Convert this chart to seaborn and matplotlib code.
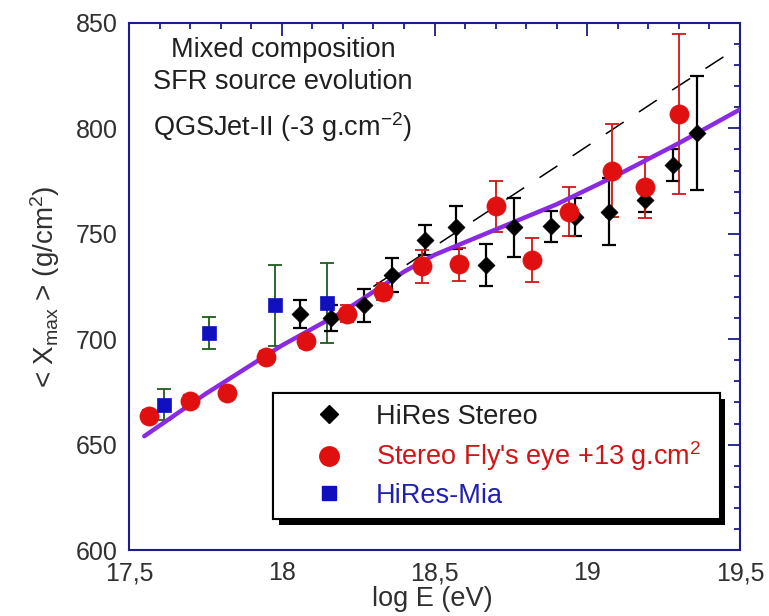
import matplotlib
matplotlib.use("Agg")
import matplotlib.pyplot as plt
import matplotlib.patheffects as pe
from matplotlib.lines import Line2D
from matplotlib.ticker import MultipleLocator, FixedLocator, FixedFormatter
import seaborn as sns
import pandas as pd

# ---------------- data ----------------
stereo_x = [18.06, 18.16, 18.27, 18.36, 18.47, 18.57, 18.67, 18.76, 18.88, 18.96, 19.07, 19.19, 19.28, 19.36]
stereo_y = [712, 710, 716, 730.5, 747, 753, 735, 753, 753.5, 758, 760.5, 766, 782.5, 798]
stereo_err = [6.5, 6, 8, 8, 7, 10, 10, 14, 7.5, 9, 16, 5.5, 7.5, 27]

fly_x = [17.565, 17.70, 17.82, 17.95, 18.08, 18.215, 18.33, 18.46, 18.58, 18.70, 18.82, 18.94, 19.08, 19.19, 19.30]
fly_y = [663.5, 670.5, 674.5, 691.5, 699, 712, 722.5, 734.5, 735.5, 763, 737.5, 760.5, 780, 772, 807]
fly_err = [3, 3, 3, 3, 3, 4, 4, 8, 8, 12, 10.5, 11.5, 22, 14.5, 38]

mia_x = [17.615, 17.763, 17.978, 18.149]
mia_y = [669, 703, 716, 717]
mia_err = [7.5, 7.5, 19, 19]

fit_x = [17.55, 17.75, 18.0, 18.2, 18.4, 18.5, 18.7, 18.9, 19.1, 19.3, 19.5]
fit_y = [654, 674, 697, 713, 732, 740, 752, 764, 778, 793, 809]

dash_x = [18.3, 18.5, 18.9, 19.26, 19.5]
dash_y = [725, 744, 782, 816.5, 839]

x_ticks = [17.5, 18.0, 18.5, 19.0, 19.5]
x_ticklabels = ["17,5", "18", "18,5", "19", "19,5"]
y_ticks = [600, 650, 700, 750, 800, 850]
y_ticklabels = ["600", "650", "700", "750", "800", "850"]

legend_labels = ["HiRes Stereo", "Stereo Fly's eye +13 g.cm$^2$", "HiRes-Mia"]
annot_lines = ["Mixed composition", "SFR source evolution", "QGSJet-II (-3 g.cm$^{-2}$)"]

# ---------------- style ----------------
sns.set_theme(style="white")
plt.rcParams['font.family'] = ['Liberation Sans', 'DejaVu Sans']
plt.rcParams['mathtext.fontset'] = 'custom'
plt.rcParams['mathtext.rm'] = 'Liberation Sans'
plt.rcParams['mathtext.it'] = 'Liberation Sans:italic'
plt.rcParams['mathtext.bf'] = 'Liberation Sans:bold'

navy = "#1c1c8a"
red = "#e01010"
blue = "#1010c0"
purple = "#8a2be2"
txtgray = "#303030"

fig = plt.figure(figsize=(7.69, 6.16), dpi=100)
ax = fig.add_axes([129 / 769, 66 / 616, 611 / 769, 527 / 616])

df_st = pd.DataFrame({"x": stereo_x, "y": stereo_y})
df_fly = pd.DataFrame({"x": fly_x, "y": fly_y})
df_mia = pd.DataFrame({"x": mia_x, "y": mia_y})
df_fit = pd.DataFrame({"x": fit_x, "y": fit_y})
df_dash = pd.DataFrame({"x": dash_x, "y": dash_y})

# error bars
ax.errorbar(mia_x, mia_y, yerr=mia_err, fmt='none', ecolor="#1f5a1f", elinewidth=1.3, capsize=5, capthick=1.3, zorder=2)
ax.errorbar(stereo_x, stereo_y, yerr=stereo_err, fmt='none', ecolor="black", elinewidth=1.6, capsize=5, capthick=1.6, zorder=2)
ax.errorbar(fly_x, fly_y, yerr=fly_err, fmt='none', ecolor="#d01515", elinewidth=1.3, capsize=5, capthick=1.3, zorder=2)

# lines
sns.lineplot(data=df_dash, x="x", y="y", ax=ax, color="black", lw=1.1, linestyle=(0, (14, 12)), zorder=1, sort=False)
sns.lineplot(data=df_fit, x="x", y="y", ax=ax, color=purple, lw=3.2, zorder=3, sort=False)

# markers
sns.scatterplot(data=df_st, x="x", y="y", ax=ax, marker="D", s=75, color="black", edgecolor="black", linewidth=0.5, zorder=4)
sns.scatterplot(data=df_fly, x="x", y="y", ax=ax, marker="o", s=190, color=red, edgecolor=red, linewidth=0.5, zorder=5)
sns.scatterplot(data=df_mia, x="x", y="y", ax=ax, marker="s", s=110, color=blue, edgecolor=blue, linewidth=0.5, zorder=6)

# axes
ax.set_xlim(17.5, 19.5)
ax.set_ylim(600, 850)
ax.xaxis.set_major_locator(FixedLocator(x_ticks))
ax.xaxis.set_major_formatter(FixedFormatter(x_ticklabels))
ax.yaxis.set_major_locator(FixedLocator(y_ticks))
ax.yaxis.set_major_formatter(FixedFormatter(y_ticklabels))
ax.xaxis.set_minor_locator(MultipleLocator(0.1))
ax.yaxis.set_minor_locator(MultipleLocator(10))
ax.tick_params(which='both', direction='in', top=True, right=True, color=navy, width=1.3)
ax.tick_params(which='major', length=9, labelsize=18, labelcolor=txtgray, pad=8)
ax.tick_params(which='minor', length=4.5)
for s in ax.spines.values():
    s.set_color(navy)
    s.set_linewidth(1.5)

ax.set_xlabel("log E (eV)", fontsize=19.5, color=txtgray)
ax.set_ylabel("< X$_{\\rm max}$ > (g/cm$^2$)", fontsize=20, color=txtgray)
ax.xaxis.set_label_coords(0.496, -0.068)
ax.yaxis.set_label_coords(-0.109, 0.5)

# annotations
ax.text(0.252, 0.949, annot_lines[0], transform=ax.transAxes, ha='center', va='center', fontsize=19.5, color="#202020")
ax.text(0.252, 0.888, annot_lines[1], transform=ax.transAxes, ha='center', va='center', fontsize=19.5, color="#202020")
ax.text(0.252, 0.803, annot_lines[2], transform=ax.transAxes, ha='center', va='center', fontsize=19.5, color="#202020")

# legend
handles = [
    Line2D([], [], marker='D', color='black', ls='none', markersize=9),
    Line2D([], [], marker='o', color=red, ls='none', markersize=14),
    Line2D([], [], marker='s', color=blue, ls='none', markersize=10),
]
leg = ax.legend(handles, legend_labels, loc='upper left', bbox_to_anchor=(0.236, 0.057, 0.731, 0.241),
                mode='expand', borderaxespad=0, fontsize=19.5, frameon=True, fancybox=False,
                handlelength=3.3, handletextpad=0.1, borderpad=0.4, labelspacing=0.35)
frame = leg.get_frame()
frame.set_edgecolor('black')
frame.set_linewidth(1.5)
frame.set_facecolor('white')
frame.set_alpha(1)
frame.set_path_effects([pe.withSimplePatchShadow(offset=(4, -4), shadow_rgbFace='black', alpha=1.0), pe.Normal()])
text_colors = ["#202020", "#d01515", "#2020b0"]
for t, c in zip(leg.get_texts(), text_colors):
    t.set_color(c)
leg.set_zorder(10)

fig.savefig("out.png", dpi=100)
